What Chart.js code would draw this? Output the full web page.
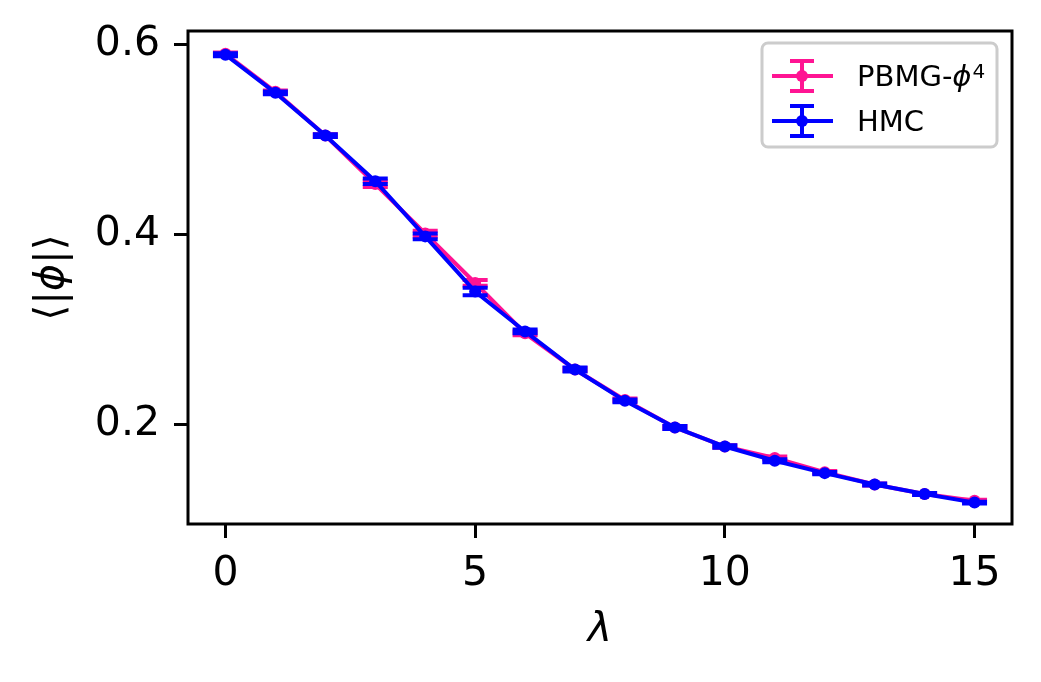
<!DOCTYPE html>
<html>
<head>
<meta charset="utf-8">
<script src="https://cdn.jsdelivr.net/npm/chart.js@4.4.1/dist/chart.umd.min.js"></script>
<style>
html, body { margin: 0; padding: 0; background: #fff; }
#wrap { width: 1041px; height: 682px; }
</style>
</head>
<body>
<div id="wrap"><canvas id="chart" width="1041" height="682"></canvas></div>
<script>
// values
const lambdas = [0, 1, 2, 3, 4, 5, 6, 7, 8, 9, 10, 11, 12, 13, 14, 15];
const pbmgMean = [0.590, 0.550, 0.504, 0.453, 0.401, 0.349, 0.296, 0.258, 0.226, 0.197, 0.177, 0.165, 0.150, 0.137, 0.127, 0.120];
const pbmgErr = [0.0015, 0.0015, 0.0015, 0.003, 0.003, 0.003, 0.002, 0.0015, 0.0015, 0.0015, 0.0012, 0.0015, 0.0012, 0.001, 0.001, 0.001];
const hmcMean = [0.589, 0.549, 0.504, 0.456, 0.398, 0.340, 0.298, 0.258, 0.225, 0.197, 0.177, 0.162, 0.149, 0.137, 0.127, 0.118];
const hmcErr = [0.0015, 0.0015, 0.0015, 0.003, 0.003, 0.004, 0.002, 0.002, 0.0015, 0.0015, 0.0012, 0.0015, 0.0012, 0.001, 0.001, 0.001];
const xTicks = [0, 5, 10, 15];
const yTicks = [0.2, 0.4, 0.6];

const PINK = '#ff1493';
const BLUE = '#0000ff';
const FONT = "'DejaVu Sans', sans-serif";

const toPoints = (ys) => lambdas.map((x, i) => ({ x: x, y: ys[i] }));

// error bars under each dataset's line
const errorBars = {
    id: 'errorBars',
    beforeDatasetDraw(chart, args) {
        const ds = chart.data.datasets[args.index];
        if (!ds.errors) return;
        const ctx = chart.ctx;
        const xs = chart.scales.x, ys = chart.scales.y;
        ctx.save();
        ctx.strokeStyle = ds.borderColor;
        ctx.lineWidth = 4;
        ctx.lineCap = 'butt';
        ds.data.forEach((p, i) => {
            const x = xs.getPixelForValue(p.x);
            const yt = ys.getPixelForValue(p.y + ds.errors[i]);
            const yb = ys.getPixelForValue(p.y - ds.errors[i]);
            ctx.beginPath();
            ctx.moveTo(x, yt); ctx.lineTo(x, yb);
            ctx.moveTo(x - 12.5, yt); ctx.lineTo(x + 12.5, yt);
            ctx.moveTo(x - 12.5, yb); ctx.lineTo(x + 12.5, yb);
            ctx.stroke();
        });
        ctx.restore();
    }
};

// frame, axis titles and legend
const decorations = {
    id: 'decorations',
    afterDraw(chart) {
        const ctx = chart.ctx;
        const a = chart.chartArea;
        ctx.save();
        ctx.strokeStyle = '#000';
        ctx.lineWidth = 3;
        ctx.strokeRect(a.left, a.top, a.right - a.left, a.bottom - a.top);

        // x title
        ctx.fillStyle = '#000';
        ctx.textAlign = 'center';
        ctx.textBaseline = 'middle';
        ctx.font = 'italic 41px ' + FONT;
        ctx.fillText('λ', (a.left + a.right) / 2, 630);

        // y title, rotated
        ctx.save();
        ctx.translate(52, (a.top + a.bottom) / 2);
        ctx.rotate(-Math.PI / 2);
        const parts = [['⟨|', '41px '], ['ϕ', 'italic 41px '], ['|⟩', '41px ']];
        let total = 0;
        parts.forEach(p => { ctx.font = p[1] + FONT; total += ctx.measureText(p[0]).width; });
        let cx = -total / 2;
        ctx.textAlign = 'left';
        parts.forEach(p => {
            ctx.font = p[1] + FONT;
            ctx.fillText(p[0], cx, 0);
            cx += ctx.measureText(p[0]).width;
        });
        ctx.restore();

        // legend box
        const bx = 762, by = 43, bw = 235, bh = 104, r = 6;
        ctx.beginPath();
        ctx.roundRect(bx, by, bw, bh, r);
        ctx.fillStyle = 'rgba(255,255,255,0.8)';
        ctx.fill();
        ctx.strokeStyle = '#cccccc';
        ctx.lineWidth = 3;
        ctx.stroke();

        const entry = (y, color) => {
            ctx.strokeStyle = color;
            ctx.fillStyle = color;
            ctx.lineWidth = 4;
            ctx.beginPath();
            ctx.moveTo(772, y); ctx.lineTo(833, y);
            ctx.moveTo(802, y - 15); ctx.lineTo(802, y + 15);
            ctx.moveTo(790, y - 15); ctx.lineTo(814, y - 15);
            ctx.moveTo(790, y + 15); ctx.lineTo(814, y + 15);
            ctx.stroke();
            ctx.beginPath();
            ctx.arc(802, y, 6, 0, Math.PI * 2);
            ctx.fill();
        };
        entry(76, PINK);
        entry(121, BLUE);

        ctx.fillStyle = '#000';
        ctx.textAlign = 'left';
        ctx.textBaseline = 'alphabetic';
        let tx = 857;
        ctx.font = '29px ' + FONT;
        ctx.fillText('PBMG-', tx, 86);
        tx += ctx.measureText('PBMG-').width;
        ctx.font = 'italic 29px ' + FONT;
        ctx.fillText('ϕ', tx, 86);
        tx += ctx.measureText('ϕ').width + 1;
        ctx.font = '20px ' + FONT;
        ctx.fillText('4', tx, 78);
        ctx.font = '29px ' + FONT;
        ctx.fillText('HMC', 857, 131);
        ctx.restore();
    }
};

const ctx = document.getElementById('chart').getContext('2d');
new Chart(ctx, {
    type: 'line',
    data: {
        datasets: [
            {
                label: 'PBMG-ϕ4',
                data: toPoints(pbmgMean),
                errors: pbmgErr,
                borderColor: PINK,
                backgroundColor: PINK,
                borderWidth: 4,
                pointRadius: 6,
                pointBorderWidth: 0,
                order: 2
            },
            {
                label: 'HMC',
                data: toPoints(hmcMean),
                errors: hmcErr,
                borderColor: BLUE,
                backgroundColor: BLUE,
                borderWidth: 4,
                pointRadius: 6,
                pointBorderWidth: 0,
                order: 1
            }
        ]
    },
    options: {
        responsive: false,
        animation: false,
        devicePixelRatio: 1,
        layout: { padding: { left: 0, right: 29, top: 31, bottom: 0 } },
        plugins: { legend: { display: false }, tooltip: { enabled: false } },
        scales: {
            x: {
                type: 'linear',
                min: -0.75,
                max: 15.75,
                afterBuildTicks: (s) => { s.ticks = xTicks.map(v => ({ value: v })); },
                afterFit: (s) => { s.height = 158; s.paddingLeft = 0; s.paddingRight = 0; },
                grid: { drawOnChartArea: false, drawTicks: true, tickLength: 14, color: '#000', lineWidth: 3 },
                border: { display: false },
                ticks: {
                    color: '#000',
                    padding: 12,
                    maxRotation: 0,
                    font: { family: FONT, size: 41 },
                    callback: (v) => String(v)
                }
            },
            y: {
                type: 'linear',
                min: 0.0955,
                max: 0.614,
                afterBuildTicks: (s) => { s.ticks = yTicks.map(v => ({ value: v })); },
                afterFit: (s) => { s.width = 188; s.paddingTop = 0; s.paddingBottom = 0; },
                grid: { drawOnChartArea: false, drawTicks: true, tickLength: 14, color: '#000', lineWidth: 3 },
                border: { display: false },
                ticks: {
                    color: '#000',
                    padding: 14,
                    font: { family: FONT, size: 41 },
                    callback: (v) => v.toFixed(1)
                }
            }
        }
    },
    plugins: [errorBars, decorations]
});
</script>
</body>
</html>
